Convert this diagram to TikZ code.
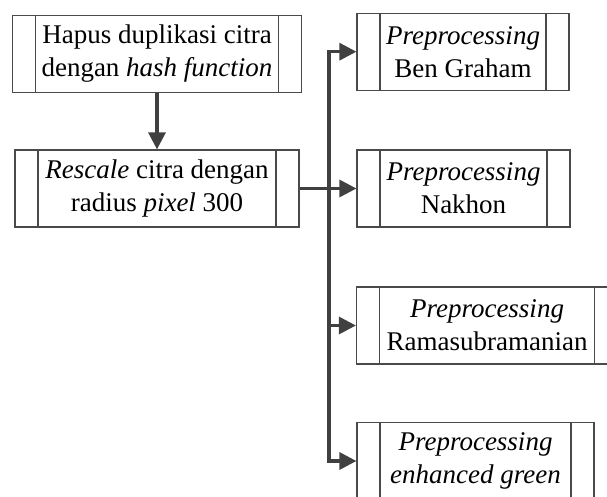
\documentclass[tikz,border=0pt]{standalone}
\usepackage{fontspec}
\setmainfont{Liberation Serif}
\usetikzlibrary{arrows.meta,calc}
\definecolor{linegray}{HTML}{404040}
\definecolor{boxgray}{HTML}{4A4A4A}
\tikzset{
  procbox/.style={draw=boxgray, line width=1.2pt, rectangle, inner sep=0pt,
    minimum height=77pt, minimum width=#1, align=center,
    font=\fontsize{27}{33}\selectfont,
    path picture={
      \draw[boxgray, line width=1.2pt]
        ([xshift=23pt]path picture bounding box.north west) --
        ([xshift=23pt]path picture bounding box.south west)
        ([xshift=-23pt]path picture bounding box.north east) --
        ([xshift=-23pt]path picture bounding box.south east);
    }},
  conn/.style={draw=linegray, line width=3.2pt,
    -{Triangle[length=17pt,width=17pt,fill=linegray]}}
}
\begin{document}
\begin{tikzpicture}[x=1pt,y=-1pt]
  \useasboundingbox (0,0) rectangle (607,497);
  \clip (0,0) rectangle (607,497);

  % left column
  \node[procbox=289pt] (hash) at (157,54) {Hapus duplikasi citra\\dengan \textit{hash function}};
  \node[procbox=284pt] (resc) at (157,188.5) {\textit{Rescale} citra dengan\\radius \textit{pixel} 300};

  % right column
  \node[procbox=212pt] (bg)   at (463,51.7)  {\textit{Preprocessing}\\Ben Graham};
  \node[procbox=213pt] (nak)  at (463.5,188.5) {\textit{Preprocessing}\\Nakhon};
  \node[procbox=261pt] (rama) at (487,325.5) {\textit{Preprocessing}\\Ramasubramanian};
  \node[procbox=237pt] (enh)  at (475.5,461) {\textit{Preprocessing}\\\textit{enhanced green}};

  % branch point on the trunk
  \coordinate (fork) at (329,188.5);

  \draw[conn] (hash) -- (resc);
  \draw[conn] (resc) -- (nak);
  \draw[conn] (fork) |- (bg);
  \draw[conn] (fork) |- (rama);
  \draw[conn] (fork) |- (enh);
\end{tikzpicture}
\end{document}
